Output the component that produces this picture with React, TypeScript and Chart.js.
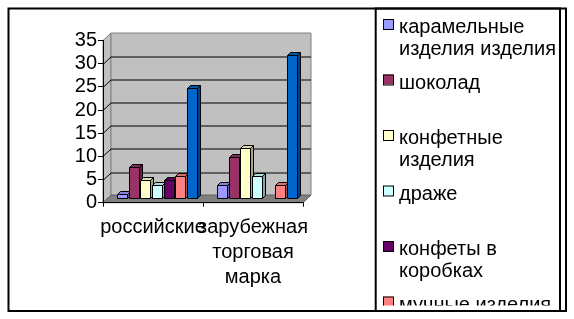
import React, { useEffect, useRef } from "react";
import { Chart, registerables } from "chart.js";

Chart.register(...registerables);

// ---- data ----
const categories: (string | string[])[] = ["российские", ["зарубежная", "торговая", "марка"]];
const seriesNames = [
  "карамельные изделия изделия",
  "шоколад",
  "конфетные изделия",
  "драже",
  "конфеты в коробках",
  "мучные изделия",
  "прочие изделия",
];
const seriesColors = ["#9999FF", "#993366", "#FFFFCC", "#CCFFFF", "#660066", "#FF8080", "#0066CC"];
const caramel = [1, 3];
const chocolate = [7, 9];
const candyProducts = [4, 11];
const dragee = [3, 5];
const boxedCandies = [4, null];
const flourProducts = [5, 3];
const otherProducts = [24, 31];
const seriesValues = [caramel, chocolate, candyProducts, dragee, boxedCandies, flourProducts, otherProducts];
const yMin = 0;
const yMax = 35;
const yStep = 5;

// ---- style constants ----
const FAMILY = '"Liberation Sans", Arial, sans-serif';
const FONT = "20px " + FAMILY;
const DX = 8; // wall depth x
const DY = -7.5; // wall depth y
const BX = 4; // bar offset into depth
const BY = -3.75;
const BD = 3; // bar own depth

function shade(hex: string, f: number): string {
  const n = parseInt(hex.slice(1), 16);
  const r = Math.round(((n >> 16) & 255) * f);
  const g = Math.round(((n >> 8) & 255) * f);
  const b = Math.round((n & 255) * f);
  return `rgb(${r},${g},${b})`;
}

function poly(ctx: CanvasRenderingContext2D, pts: number[][], fill: string, stroke: string) {
  ctx.beginPath();
  ctx.moveTo(pts[0][0], pts[0][1]);
  for (let i = 1; i < pts.length; i++) ctx.lineTo(pts[i][0], pts[i][1]);
  ctx.closePath();
  ctx.fillStyle = fill;
  ctx.fill();
  ctx.strokeStyle = stroke;
  ctx.lineWidth = 1;
  ctx.stroke();
}

function wrap(ctx: CanvasRenderingContext2D, text: string, maxW: number): string[] {
  const words = text.split(" ");
  const lines: string[] = [];
  let cur = "";
  for (const w of words) {
    const t = cur ? cur + " " + w : w;
    if (cur && ctx.measureText(t).width > maxW) {
      lines.push(cur);
      cur = w;
    } else cur = t;
  }
  if (cur) lines.push(cur);
  return lines;
}

const threeD = {
  id: "threeD",
  beforeDraw(chart: any) {
    const { ctx, chartArea: a, scales } = chart;
    const y = scales.y;
    ctx.save();
    ctx.fillStyle = "#ffffff";
    ctx.fillRect(0, 0, chart.width, chart.height);
    const L = a.left, R = a.right, T = a.top, B = a.bottom;
    // left wall
    poly(ctx, [[L, T], [L + DX, T + DY], [L + DX, B + DY], [L, B]], "#c0c0c0", "#808080");
    // back wall
    poly(ctx, [[L + DX, T + DY], [R + DX, T + DY], [R + DX, B + DY], [L + DX, B + DY]], "#c0c0c0", "#808080");
    // floor
    poly(ctx, [[L, B], [R, B], [R + DX, B + DY], [L + DX, B + DY]], "#808080", "#606060");
    // gridlines
    ctx.strokeStyle = "#000000";
    ctx.lineWidth = 1;
    y.ticks.forEach((t: any) => {
      if (t.value <= yMin || t.value >= yMax) return;
      const py = Math.round(y.getPixelForValue(t.value)) + 0.5;
      ctx.beginPath();
      ctx.moveTo(L + DX, py + DY);
      ctx.lineTo(R + DX, py + DY);
      ctx.moveTo(L, py);
      ctx.lineTo(L + DX, py + DY);
      ctx.stroke();
    });
    ctx.restore();
  },
  beforeDatasetsDraw(chart: any) {
    const { ctx } = chart;
    const items: any[] = [];
    chart.data.datasets.forEach((ds: any, di: number) => {
      const meta = chart.getDatasetMeta(di);
      meta.data.forEach((el: any, idx: number) => {
        if (ds.data[idx] == null) return;
        const p = el.getProps(["x", "y", "base", "width"], true);
        items.push({ p, color: ds.backgroundColor, left: p.x - p.width / 2 });
      });
    });
    items.sort((u, v) => u.left - v.left);
    ctx.save();
    for (const it of items) {
      const { p, color } = it;
      const fx = Math.round(it.left + BX) + 0.5;
      const fw = Math.round(p.width);
      const top = Math.round(p.y + BY) + 0.5;
      const bot = Math.round(p.base + BY) + 0.5;
      poly(ctx, [[fx + fw, top], [fx + fw + BD, top - BD], [fx + fw + BD, bot - BD], [fx + fw, bot]], shade(color, 0.65), "#000000");
      poly(ctx, [[fx, top], [fx + fw, top], [fx + fw + BD, top - BD], [fx + BD, top - BD]], shade(color, 0.85), "#000000");
      poly(ctx, [[fx, top], [fx + fw, top], [fx + fw, bot], [fx, bot]], color, "#000000");
    }
    ctx.restore();
    return false;
  },
  afterDraw(chart: any) {
    const { ctx } = chart;
    ctx.save();
    // outer frame
    ctx.strokeStyle = "#000000";
    ctx.lineWidth = 2;
    ctx.strokeRect(8.5, 8.5, 557.5, 302.5);
    // legend box
    ctx.strokeRect(375.7, 8.5, 184.3, 302.5);
    ctx.beginPath();
    ctx.rect(377, 10, 182, 295.5);
    ctx.clip();
    ctx.font = FONT;
    ctx.textBaseline = "alphabetic";
    ctx.textAlign = "left";
    chart.data.datasets.forEach((ds: any, i: number) => {
      const base = i * 55.5;
      ctx.fillStyle = ds.backgroundColor;
      ctx.fillRect(383, 19 + base, 10, 10);
      ctx.strokeStyle = "#000000";
      ctx.lineWidth = 1;
      ctx.strokeRect(383.5, 19.5 + base, 10, 10);
      ctx.fillStyle = "#000000";
      const lines = wrap(ctx, ds.label, 160);
      lines.forEach((ln, j) => ctx.fillText(ln, 399, 33 + base + j * 22));
    });
    ctx.restore();
  },
};

export default function App() {
  const ref = useRef<HTMLCanvasElement | null>(null);
  useEffect(() => {
    if (!ref.current) return;
    const chart = new Chart(ref.current, {
      type: "bar",
      data: {
        labels: categories as any,
        datasets: seriesNames.map((name, i) => ({
          label: name,
          data: seriesValues[i] as any,
          backgroundColor: seriesColors[i],
          borderColor: "#000000",
          borderWidth: 1,
          categoryPercentage: 0.817,
          barPercentage: 0.857,
        })),
      },
      options: {
        animation: false,
        responsive: false,
        devicePixelRatio: 1,
        layout: { padding: { left: 0, right: 271, top: 40.5, bottom: 0 } },
        plugins: { legend: { display: false }, tooltip: { enabled: false } },
        scales: {
          x: {
            offset: true,
            grid: { drawOnChartArea: false, drawTicks: true, tickLength: 4, color: "#000000", offset: true },
            border: { display: true, color: "#000000", width: 1 },
            ticks: {
              color: "#000000",
              font: { family: FAMILY, size: 20, lineHeight: 1.25 },
              maxRotation: 0,
              minRotation: 0,
              autoSkip: false,
              padding: 8,
            },
            afterFit: (s: any) => {
              s.height = 116.3;
            },
          },
          y: {
            min: yMin,
            max: yMax,
            grid: { drawOnChartArea: false, drawTicks: true, tickLength: 5, color: "#000000" },
            border: { display: true, color: "#000000", width: 1 },
            ticks: {
              stepSize: yStep,
              autoSkip: false,
              color: "#000000",
              font: { family: FAMILY, size: 20 },
              padding: 1,
            },
            afterFit: (s: any) => {
              s.width = 103;
            },
          },
        },
      },
      plugins: [threeD],
    });
    return () => chart.destroy();
  }, []);
  return (
    <div style={{ position: "fixed", left: 0, top: 0, width: 574, height: 319 }}>
      <canvas ref={ref} width={574} height={319} style={{ display: "block" }} />
    </div>
  );
}
